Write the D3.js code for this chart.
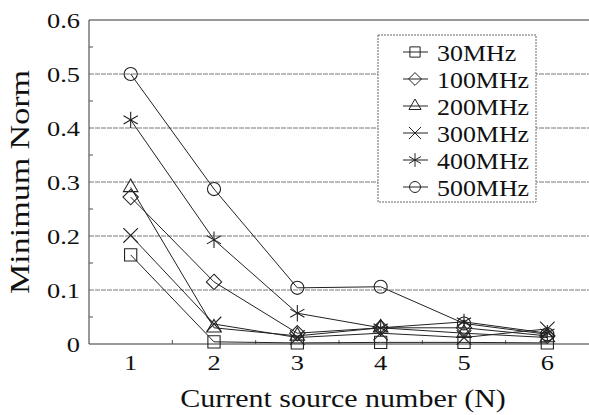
<!DOCTYPE html>
<html>
<head>
<meta charset="utf-8">
<script src="https://cdn.jsdelivr.net/npm/d3@7"></script>
<style>
  body { margin: 0; background: #fff; }
</style>
</head>
<body>
<div id="chart"></div>
<script>
(function(d3) {
  'use strict';

  // data
  var sourceNumbers = [1, 2, 3, 4, 5, 6];
  var seriesNames = ['30MHz', '100MHz', '200MHz', '300MHz', '400MHz', '500MHz'];
  var norm30 = [0.165, 0.004, 0.002, 0.003, 0.003, 0.002];
  var norm100 = [0.272, 0.115, 0.02, 0.03, 0.03, 0.015];
  var norm200 = [0.29, 0.03, 0.015, 0.03, 0.02, 0.012];
  var norm300 = [0.201, 0.037, 0.012, 0.02, 0.012, 0.028];
  var norm400 = [0.415, 0.193, 0.057, 0.03, 0.041, 0.02];
  var norm500 = [0.5, 0.287, 0.104, 0.106, 0.038, 0.018];
  var yTicks = [0, 0.1, 0.2, 0.3, 0.4, 0.5, 0.6];

  var allSeries = [norm30, norm100, norm200, norm300, norm400, norm500];
  var symbols = [d3.symbolSquare2, d3.symbolDiamond2, d3.symbolTriangle2,
                 d3.symbolTimes, d3.symbolAsterisk, d3.symbolCircle];
  var symSizes = [190, 150, 150, 140, 190, 135];

  var serif = '"Liberation Serif", "Times New Roman", Times, "DejaVu Serif", serif';

  var width = 589;
  var height = 415;
  var margin = {left: 89, right: 0, top: 20, bottom: 71};

  var svg = d3.select('#chart')
    .append('svg')
    .attr('width', width)
    .attr('height', height);

  var x = d3.scaleLinear()
    .domain([0.5, 6.5])
    .range([margin.left, width - margin.right]);

  var y = d3.scaleLinear()
    .domain([0, 0.6])
    .range([height - margin.bottom, margin.top]);

  // stretched text, like the scanned original
  function label(g, tx, ty, str, size, sx, anchor, rot) {
    var t = 'translate(' + tx + ',' + ty + ')';
    if (rot) t += ' rotate(' + rot + ')';
    t += ' scale(' + sx + ',1)';
    return g.append('text')
      .attr('transform', t)
      .attr('text-anchor', anchor)
      .style('font-family', serif)
      .style('font-size', size + 'px')
      .style('fill', '#111')
      .text(str);
  }

  // grid lines
  svg.append('g')
    .selectAll('line')
    .data(yTicks.slice(1))
    .enter()
    .append('line')
    .attr('x1', x(0.5))
    .attr('x2', x(6.5))
    .attr('y1', function(d) { return y(d); })
    .attr('y2', function(d) { return y(d); })
    .attr('stroke', function(d) { return d === 0.6 ? '#333' : '#777'; })
    .attr('stroke-width', 1)
    .attr('stroke-dasharray', function(d) { return d === 0.6 ? null : '5,1'; });

  // axes frame
  svg.append('line')
    .attr('x1', x(0.5)).attr('x2', x(0.5))
    .attr('y1', y(0)).attr('y2', y(0.6))
    .attr('stroke', '#333');
  svg.append('line')
    .attr('x1', x(0.5)).attr('x2', x(6.5))
    .attr('y1', y(0)).attr('y2', y(0))
    .attr('stroke', '#333');

  // minor ticks
  var yMinor = d3.range(0.05, 0.6, 0.1);
  svg.append('g').selectAll('line')
    .data(yMinor).enter().append('line')
    .attr('x1', x(0.5)).attr('x2', x(0.5) + 4)
    .attr('y1', function(d) { return y(d); })
    .attr('y2', function(d) { return y(d); })
    .attr('stroke', '#555');
  var xMinor = d3.range(1.5, 6.5, 1);
  svg.append('g').selectAll('line')
    .data(xMinor).enter().append('line')
    .attr('x1', function(d) { return x(d); })
    .attr('x2', function(d) { return x(d); })
    .attr('y1', y(0)).attr('y2', y(0) - 4)
    .attr('stroke', '#555');

  // tick labels
  var tickG = svg.append('g');
  yTicks.forEach(function(d) {
    label(tickG, x(0.5) - 9, y(d) + 8, d === 0 ? '0' : d.toFixed(1), 22, 1.2, 'end');
  });
  sourceNumbers.forEach(function(d) {
    label(tickG, x(d), y(0) + 26, String(d), 22, 1.2, 'middle');
  });

  // axis titles
  label(svg, (x(0.5) + x(6.5)) / 2 + 4, 407, 'Current source number (N)', 25, 1.2, 'middle');
  label(svg, 29, (y(0) + y(0.6)) / 2, 'Minimum Norm', 27, 1.26, 'middle', -90);

  // lines
  var line = d3.line()
    .x(function(d, i) { return x(sourceNumbers[i]); })
    .y(function(d) { return y(d); });

  svg.append('g')
    .selectAll('path')
    .data(allSeries)
    .enter()
    .append('path')
    .attr('d', line)
    .attr('fill', 'none')
    .attr('stroke', '#222')
    .attr('stroke-width', 1);

  // markers
  allSeries.forEach(function(vals, s) {
    svg.append('g')
      .selectAll('path')
      .data(vals)
      .enter()
      .append('path')
      .attr('transform', function(d, i) {
        return 'translate(' + x(sourceNumbers[i]) + ',' + y(d) + ')';
      })
      .attr('d', d3.symbol().type(symbols[s]).size(symSizes[s]))
      .attr('fill', 'none')
      .attr('stroke', '#222')
      .attr('stroke-width', 1.1);
  });

  // legend
  var legX = 378, legY = 35, legW = 158, legH = 167;
  var rowH = 27;
  var legend = svg.append('g');
  legend.append('rect')
    .attr('x', legX).attr('y', legY)
    .attr('width', legW).attr('height', legH)
    .attr('fill', '#fff')
    .attr('stroke', '#666')
    .attr('stroke-dasharray', '2,1');

  var items = legend.selectAll('.legend')
    .data(seriesNames)
    .enter()
    .append('g')
    .attr('class', 'legend')
    .attr('transform', function(d, i) {
      return 'translate(' + (legX + 37) + ',' + (legY + 17 + i * rowH) + ')';
    });

  items.append('line')
    .attr('x1', -12).attr('x2', 13)
    .attr('stroke', '#222');
  items.append('path')
    .attr('d', function(d, i) {
      return d3.symbol().type(symbols[i]).size(symSizes[i] * 0.7)();
    })
    .attr('fill', 'none')
    .attr('stroke', '#222');
  items.each(function(d) {
    label(d3.select(this), 22, 8.5, d, 24, 1.08, 'start');
  });

})(window.d3);
</script>
</body>
</html>
